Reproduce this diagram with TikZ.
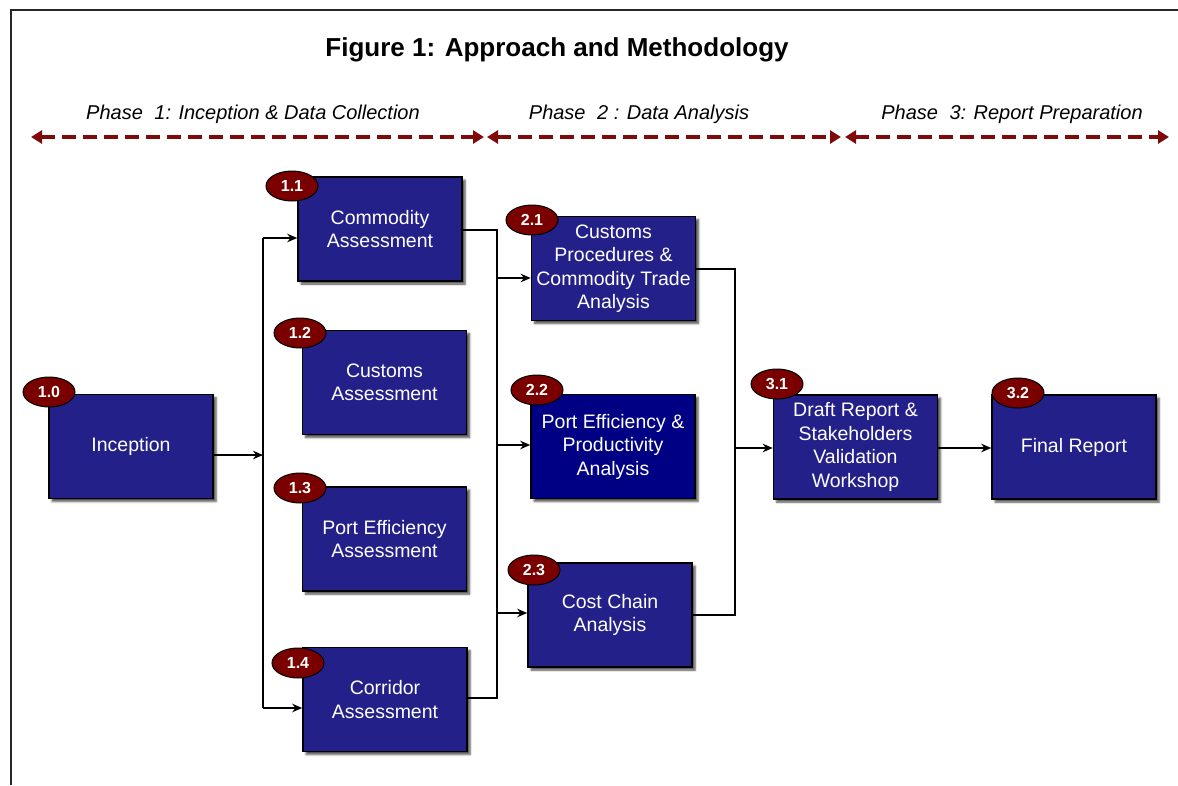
\documentclass[tikz,border=0pt]{standalone}
\usepackage{fontspec}
\setmainfont{Liberation Sans}
\usetikzlibrary{arrows.meta,shapes.geometric,shadows.blur}

\definecolor{boxblue}{HTML}{23208A}
\definecolor{boxnavy}{HTML}{000084}
\definecolor{badgered}{HTML}{7A0000}
\definecolor{phasered}{HTML}{7F0A0A}

\begin{document}
\begin{tikzpicture}[x=1pt,y=-1pt,
  proc/.style={draw=black, line width=1.6pt, fill=boxblue, text=white, align=center,
    font=\fontsize{19.5}{23.5}\selectfont, minimum width=164pt, minimum height=104pt,
    inner sep=2pt,
    blur shadow={shadow xshift=3pt, shadow yshift=-3pt, shadow blur steps=5, shadow opacity=70}},
  badge/.style={ellipse, draw=black, line width=1pt, fill=badgered, text=white,
    font=\bfseries\fontsize{16}{16}\selectfont, minimum width=52pt, minimum height=30pt,
    inner sep=0pt},
  link/.style={draw=black, line width=1.5pt},
  arr/.style={link, -{Stealth[length=10pt,width=8.5pt]}},
  phase/.style={draw=phasered, line width=4pt, dash pattern=on 14pt off 7pt,
    {Triangle[length=11pt,width=13pt]}-{Triangle[length=11pt,width=13pt]}},
  phasetext/.style={font=\itshape\fontsize{20}{22}\selectfont, text=black},
  frameline/.style={draw=black!85, line width=2.5pt},
]
\useasboundingbox (0,0) rectangle (1178,785);

% page frame (left and top edges)
\coordinate (fbl) at (11,785);
\coordinate (ftl) at (11,10);
\coordinate (ftr) at (1178,10);
\draw[frameline] (fbl) -- (ftl) -- (ftr);

% title
\node[font=\bfseries\fontsize{26}{28}\selectfont, anchor=base] (title) at (557,56)
  {Figure 1: Approach and Methodology};

% phase headings and spans
\node[phasetext] (ph1) at (253,114) {Phase\hspace{0.3em} 1: Inception \& Data Collection};
\node[phasetext] (ph2) at (639,114) {Phase\hspace{0.3em} 2 : Data Analysis};
\node[phasetext] (ph3) at (1012,114) {Phase\hspace{0.3em} 3: Report Preparation};

\coordinate (p1a) at (31,137);  \coordinate (p1b) at (484,137);
\coordinate (p2a) at (487,137); \coordinate (p2b) at (841,137);
\coordinate (p3a) at (845,137); \coordinate (p3b) at (1169,137);
\draw[phase] (p1a) -- (p1b);
\draw[phase] (p2a) -- (p2b);
\draw[phase] (p3a) -- (p3b);

% process boxes
\node[proc] (n10) at (131,446.5) {Inception};
\node[proc] (n11) at (380,229) {Commodity\\Assessment};
\node[proc] (n12) at (384.5,382.5) {Customs\\Assessment};
\node[proc] (n13) at (384.5,539) {Port Efficiency\\Assessment};
\node[proc] (n14) at (385,699.5) {Corridor\\Assessment};
\node[proc] (n21) at (613.5,268.5) {Customs\\Procedures \&\\Commodity Trade\\Analysis};
\node[proc, fill=boxnavy] (n22) at (613,446.5) {Port Efficiency \&\\Productivity\\Analysis};
\node[proc] (n23) at (610,615) {Cost Chain\\Analysis};
\node[proc] (n31) at (855.5,447) {Draft Report \&\\Stakeholders\\Validation\\Workshop};
\node[proc] (n32) at (1074,447) {Final Report};

% step numbers
\node[badge] (b10) at (49,392) {1.0};
\node[badge] (b11) at (292,186) {1.1};
\node[badge] (b12) at (300,333) {1.2};
\node[badge] (b13) at (300,488) {1.3};
\node[badge] (b14) at (298,663) {1.4};
\node[badge] (b21) at (532,220) {2.1};
\node[badge] (b22) at (537,390) {2.2};
\node[badge] (b23) at (534,570) {2.3};
\node[badge] (b31) at (777,384) {3.1};
\node[badge] (b32) at (1018,393) {3.2};

% first bus: inception to the assessments
\coordinate (bus1top) at (263,238);
\coordinate (bus1mid) at (263,455);
\coordinate (bus1bot) at (263,708);
\draw[link] (bus1top) -- (bus1bot);
\draw[arr] (n10.east |- bus1mid) -- (bus1mid);
\draw[arr] (bus1top) -- (n11.west |- bus1top);
\draw[arr] (bus1bot) -- (n14.west |- bus1bot);

% second bus: assessments to the analyses
\coordinate (bus2top) at (497,230);
\coordinate (bus2bot) at (497,698);
\coordinate (bus2a) at (497,278);
\coordinate (bus2b) at (497,445);
\coordinate (bus2c) at (497,613);
\draw[link] (n11.east |- bus2top) -- (bus2top) -- (bus2bot) -- (n14.east |- bus2bot);
\draw[arr] (bus2a) -- (n21.west |- bus2a);
\draw[arr] (bus2b) -- (n22.west |- bus2b);
\draw[arr] (bus2c) -- (n23.west |- bus2c);

% third bus: analyses to reporting
\coordinate (bus3top) at (735,269);
\coordinate (bus3mid) at (735,448);
\coordinate (bus3bot) at (735,615);
\draw[link] (n21.east |- bus3top) -- (bus3top) -- (bus3bot) -- (n23.east |- bus3bot);
\draw[arr] (bus3mid) -- (n31.west |- bus3mid);
\draw[arr] (n31.east |- bus3mid) -- (n32.west |- bus3mid);
\end{tikzpicture}
\end{document}
